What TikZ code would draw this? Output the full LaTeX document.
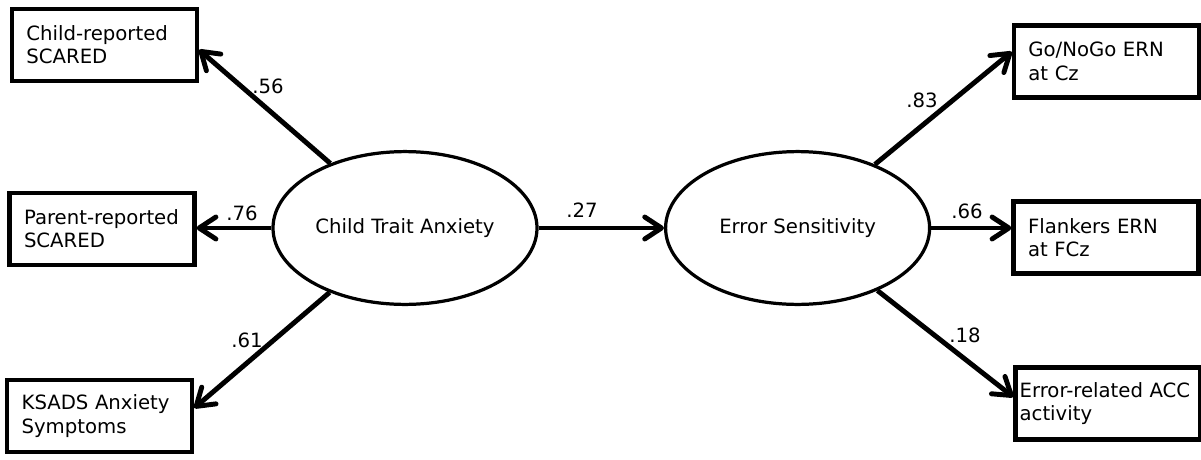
\documentclass[tikz,border=0pt]{standalone}
\usepackage{fontspec}
\setmainfont{DejaVu Sans}
\usepackage{tikz}
\usetikzlibrary{arrows.meta,shapes.geometric}
\tikzset{
  obsbox/.style={draw=black, line width=3.2pt, fill=white, text width=3.9cm, inner xsep=0.36cm, minimum height=1.8cm, align=left},
  latent/.style={draw=black, ellipse, line width=2.3pt, fill=white, minimum width=6.6cm, minimum height=3.82cm, inner sep=0pt},
  arr/.style={-{Straight Barb[length=0.42cm,width=0.55cm,round]}, line width=3.5pt},
  coef/.style={inner sep=1pt},
}

\begin{document}
\begin{tikzpicture}[x=1cm,y=1cm,font=\fontsize{14}{16.5}\selectfont]
  \useasboundingbox (0,0) rectangle (30.025,11.475);
  % latent factors
  \node[latent] (cta) at (10.125,5.775) {Child Trait Anxiety};
  \node[latent] (es) at (19.94,5.775) {Error Sensitivity};
  % indicators
  \node[obsbox] (child) at (2.61,10.35) {Child-reported\\SCARED};
  \node[obsbox] (parent) at (2.55,5.75) {Parent-reported\\SCARED};
  \node[obsbox] (ksads) at (2.49,1.075) {KSADS Anxiety\\Symptoms};
  \node[obsbox] (gonogo) at (27.66,9.94) {Go/NoGo ERN\\at Cz};
  \node[obsbox] (flank) at (27.65,5.54) {Flankers ERN\\at FCz};
  \node[obsbox, text width=4.42cm, inner xsep=0.1cm] (acc) at (27.7,1.39) {Error-related ACC\\activity};
  % paths
  \draw[arr] (cta) -- ([yshift=-0.12cm]child.east);
  \draw[arr] (cta.west) -- (cta.west -| parent.east);
  \draw[arr] (cta) -- ([yshift=0.2cm]ksads.east);
  \draw[arr] (cta) -- (es);
  \draw[arr] (es) -- ([yshift=0.24cm]gonogo.west);
  \draw[arr] (es.east) -- (es.east -| flank.west);
  \draw[arr] (es) -- ([yshift=0.16cm]acc.west);
  % loadings
  \node[coef] (l56) at (6.7,9.325) {.56};
  \node[coef] (l76) at (6.05,6.15) {.76};
  \node[coef] (l61) at (6.175,2.975) {.61};
  \node[coef] (l27) at (14.55,6.22) {.27};
  \node[coef] (l83) at (23.05,8.975) {.83};
  \node[coef] (l66) at (24.175,6.2) {.66};
  \node[coef] (l18) at (24.125,3.1) {.18};
\end{tikzpicture}
\end{document}
